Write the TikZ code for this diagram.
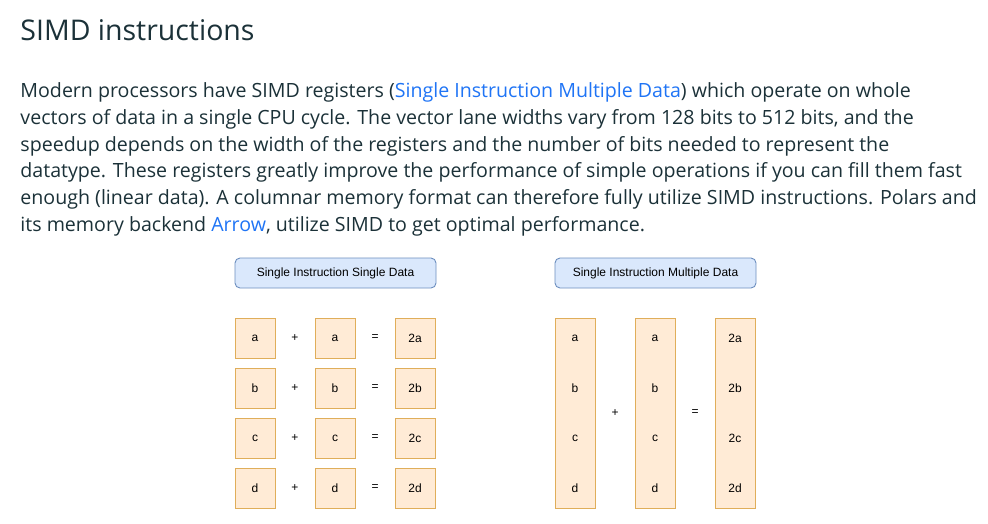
\documentclass[tikz,border=0pt]{standalone}
\usepackage{fontspec}
\setmainfont{Open Sans}
\newfontfamily\drawiofont{Liberation Sans}
\definecolor{ink}{HTML}{1B3138}
\definecolor{link}{HTML}{1F74F5}
\definecolor{titlefill}{HTML}{DAE8FC}
\definecolor{titledraw}{HTML}{6C8EBF}
\definecolor{cellfill}{HTML}{FFEBD6}
\definecolor{celldraw}{HTML}{E0AE5A}
\tikzset{
  textline/.style={anchor=base west, inner sep=0, text=ink, font=\fontsize{19.6}{19.6}\selectfont},
  titlebox/.style={draw=titledraw, fill=titlefill, rounded corners=5pt, minimum width=201pt, minimum height=30pt, inner sep=0, font=\drawiofont\fontsize{12}{12}\selectfont},
  cell/.style={draw=celldraw, fill=cellfill, minimum size=40pt, inner sep=0, font=\drawiofont\fontsize{12}{12}\selectfont},
  column/.style={draw=celldraw, fill=cellfill, minimum width=40pt, minimum height=190pt, inner sep=0},
  lbl/.style={inner sep=0, font=\drawiofont\fontsize{12}{12}\selectfont}
}
\begin{document}
\begin{tikzpicture}[x=1pt,y=-1pt,line width=0.9pt]
  \useasboundingbox (0,0) rectangle (988,523);
  % heading and text
  \node [textline, font=\fontsize{28.5}{28.5}\selectfont] (head) at (20,40) {SIMD instructions};
  \node [textline] (line1) at (20,97) {Modern processors have SIMD registers (\textcolor{link}{Single Instruction Multiple Data}) which operate on whole};
  \node [textline] (line2) at (20,124) {vectors of data in a single CPU cycle. The vector lane widths vary from 128 bits to 512 bits, and the};
  \node [textline] (line3) at (20,151) {speedup depends on the width of the registers and the number of bits needed to represent the};
  \node [textline] (line4) at (20,177) {datatype. These registers greatly improve the performance of simple operations if you can fill them fast};
  \node [textline] (line5) at (20,204) {enough (linear data). A columnar memory format can therefore fully utilize SIMD instructions. Polars and};
  \node [textline] (line6) at (20,231) {its memory backend \textcolor{link}{Arrow}, utilize SIMD to get optimal performance.};
  % single data
  \node [titlebox] (sisd) at (335.5,273) {Single Instruction Single Data};
  \node [cell] (la) at (255,338) {a};
  \node [lbl] (pa) at (295,338) {+};
  \node [cell] (ra) at (335,338) {a};
  \node [lbl] (ea) at (375,338) {=};
  \node [cell] (sa) at (415,338) {2a};
  \node [cell] (lb) at (255,388) {b};
  \node [lbl] (pb) at (295,388) {+};
  \node [cell] (rb) at (335,388) {b};
  \node [lbl] (eb) at (375,388) {=};
  \node [cell] (sb) at (415,388) {2b};
  \node [cell] (lc) at (255,438) {c};
  \node [lbl] (pc) at (295,438) {+};
  \node [cell] (rc) at (335,438) {c};
  \node [lbl] (ec) at (375,438) {=};
  \node [cell] (sc) at (415,438) {2c};
  \node [cell] (ld) at (255,488) {d};
  \node [lbl] (pd) at (295,488) {+};
  \node [cell] (rd) at (335,488) {d};
  \node [lbl] (ed) at (375,488) {=};
  \node [cell] (sd) at (415,488) {2d};
  % multiple data
  \node [titlebox] (simd) at (655.5,273) {Single Instruction Multiple Data};
  \node [column] (lcol) at (575,413) {};
  \node [column] (rcol) at (655,413) {};
  \node [column] (scol) at (735,413) {};
  \node [lbl] (plus) at (615,413) {+};
  \node [lbl] (equals) at (695,413) {=};
  \node [lbl] (lva) at (575,338) {a};
  \node [lbl] (lvb) at (575,388) {b};
  \node [lbl] (lvc) at (575,438) {c};
  \node [lbl] (lvd) at (575,488) {d};
  \node [lbl] (rva) at (655,338) {a};
  \node [lbl] (rvb) at (655,388) {b};
  \node [lbl] (rvc) at (655,438) {c};
  \node [lbl] (rvd) at (655,488) {d};
  \node [lbl] (sva) at (735,338) {2a};
  \node [lbl] (svb) at (735,388) {2b};
  \node [lbl] (svc) at (735,438) {2c};
  \node [lbl] (svd) at (735,488) {2d};
\end{tikzpicture}
\end{document}
